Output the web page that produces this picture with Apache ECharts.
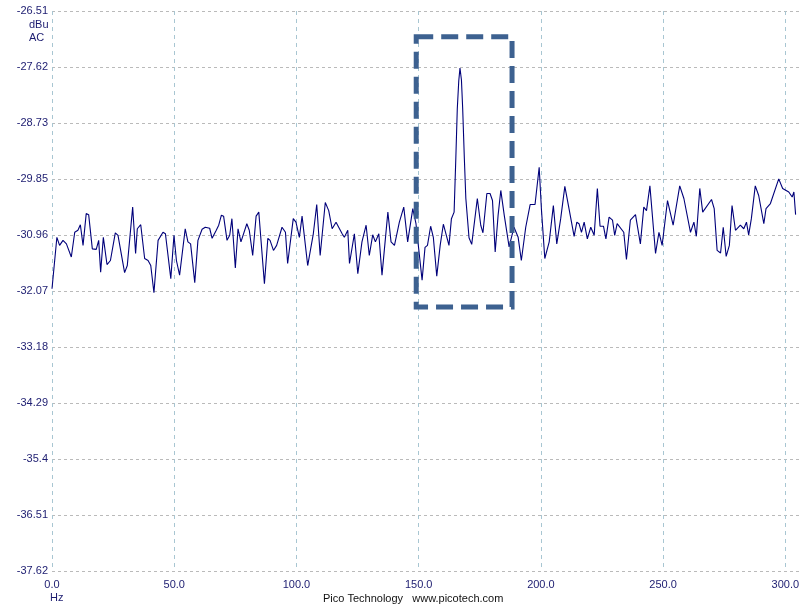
<!DOCTYPE html>
<html>
<head>
<meta charset="utf-8">
<script src="https://cdn.jsdelivr.net/npm/echarts@6/dist/echarts.min.js"></script>
<style>
  html, body { margin: 0; padding: 0; background: #fff; }
  #chart { width: 804px; height: 607px; }
</style>
</head>
<body>
<div id="chart"></div>
<script>
// spectrum trace (Hz / dBu)
const freqHz = [
  0.0, 2.0, 3.1, 4.5, 5.9, 7.9, 9.3, 10.6, 11.6, 12.7, 14.0, 15.0, 16.5, 18.1, 19.1, 19.9,
  21.0, 22.5, 23.9, 25.9, 27.0, 29.7, 30.8, 33.0, 34.2, 34.9, 36.3, 37.9, 39.3, 40.4, 41.7,
  43.4, 45.4, 46.4, 48.6, 49.9, 50.9, 52.2, 54.5, 55.6, 56.7, 58.4, 59.7, 61.4, 62.7, 64.5,
  65.5, 67.2, 68.2, 69.3, 70.2, 71.6, 72.7, 73.6, 75.0, 76.1, 77.3, 79.7, 80.7, 82.1, 83.5,
  84.6, 86.9, 88.3, 89.2, 90.6, 91.9, 94.1, 95.5, 96.4, 98.7, 99.8, 101.2, 102.3, 104.6,
  106.9, 108.3, 109.7, 111.8, 113.2, 114.6, 116.2, 118.7, 119.6, 121.0, 121.7, 123.7, 125.1,
  126.8, 128.5, 129.8, 131.2, 132.3, 133.7, 135.0, 137.4, 138.7, 140.1, 142.1, 143.9, 145.5,
  147.6, 148.9, 151.4, 152.6, 153.6, 154.9, 156.0, 157.4, 158.8, 160.1, 161.7, 162.4, 163.4,
  164.5, 165.2, 165.8, 166.4, 166.9, 167.5, 168.0, 168.7, 169.3, 170.6, 171.7, 174.0, 175.4,
  176.3, 177.9, 179.2, 180.2, 181.3, 182.5, 183.6, 185.0, 187.0, 189.0, 190.7, 192.0, 193.8,
  195.6, 197.6, 199.3, 200.2, 201.6, 203.4, 205.1, 206.5, 208.1, 209.8, 211.5, 213.6, 214.7,
  215.6, 216.6, 217.7, 219.0, 220.4, 221.8, 223.1, 224.2, 225.6, 226.6, 227.9, 229.3, 230.2,
  231.2, 233.9, 235.0, 236.6, 238.7, 240.7, 242.1, 243.2, 244.6, 246.9, 248.3, 249.6, 251.8,
  254.1, 256.8, 258.5, 261.2, 262.6, 263.6, 265.0, 266.2, 269.8, 270.9, 272.1, 273.5, 274.6,
  275.8, 277.1, 278.2, 279.6, 281.6, 283.0, 284.1, 285.0, 286.1, 287.7, 289.1, 291.2, 292.1,
  293.9, 297.3, 298.9, 301.4, 302.8, 303.5, 304.2
];
const levelDbu = [
  -32.02, -31.00, -31.16, -31.06, -31.13, -31.39, -30.90, -30.86, -30.75, -31.16, -30.53, -30.55, -31.23, -31.24, -31.06, -31.69,
  -31.00, -31.54, -31.46, -30.91, -30.96, -31.70, -31.56, -30.40, -31.32, -30.83, -30.75, -31.42, -31.46, -31.56, -32.10,
  -31.06, -30.90, -30.93, -31.82, -30.96, -31.46, -31.75, -30.83, -31.09, -31.13, -31.90, -31.06, -30.84, -30.80, -30.82,
  -31.02, -30.86, -30.76, -30.56, -30.58, -31.06, -30.96, -30.63, -31.61, -30.83, -31.09, -30.73, -30.86, -31.36, -30.58,
  -30.50, -31.92, -31.02, -31.06, -31.26, -31.16, -30.80, -30.90, -31.52, -30.63, -30.70, -31.00, -30.58, -31.56,
  -30.93, -30.35, -31.36, -30.31, -30.47, -30.83, -30.70, -30.93, -31.00, -30.86, -31.52, -30.93, -31.72,
  -31.09, -30.76, -31.36, -30.95, -31.09, -30.93, -31.75, -30.50, -31.09, -31.16, -30.70, -30.40, -31.09,
  -30.43, -30.73, -31.85, -31.20, -31.16, -30.78, -31.00, -31.77, -31.16, -30.74, -31.03, -31.16, -30.63,
  -30.50, -29.43, -28.45, -27.90, -27.64, -27.88, -28.44, -29.45, -30.23, -31.01, -31.14, -30.23, -30.76,
  -30.91, -30.13, -30.13, -30.27, -31.29, -30.56, -30.07, -30.56, -31.19, -30.80, -31.00, -31.46, -30.80,
  -30.35, -30.35, -29.61, -30.43, -31.42, -31.09, -30.37, -31.13, -30.63, -29.99, -30.43, -30.98, -30.70,
  -30.73, -30.90, -30.70, -31.03, -30.80, -30.96, -30.03, -30.78, -30.78, -31.03, -30.60, -30.66, -30.96,
  -30.73, -30.90, -31.44, -30.66, -30.55, -31.13, -30.40, -30.47, -29.98, -31.32, -30.90, -31.16, -30.27,
  -30.76, -29.98, -30.23, -30.90, -30.70, -30.98, -30.03, -30.50, -30.25, -30.43, -31.26, -31.31, -30.80,
  -31.38, -31.16, -30.37, -30.86, -30.76, -30.83, -30.70, -30.95, -30.63, -29.98, -30.17, -30.73, -30.43,
  -30.33, -29.84, -30.03, -30.10, -30.20, -30.10, -30.55
];

// axis ticks
const yTicks = [-37.62, -36.51, -35.4, -34.29, -33.18, -32.07, -30.96, -29.85, -28.73, -27.62, -26.51];
const xTicks = [0, 50, 100, 150, 200, 250, 300];

// highlighted region (the dashed box)
const boxHz = [149.0, 188.2];
const boxDbu = [-27.02, -32.38];

const chart = echarts.init(document.getElementById('chart'));

const labelColor = '#1c1c70';
const fontFamily = '"Liberation Sans", Arial, sans-serif';

chart.setOption({
  animation: false,
  backgroundColor: '#ffffff',
  grid: {
    left: 52,
    right: 4,
    top: 11,
    bottom: 36,
    containLabel: false,
    outerBoundsMode: 'none'
  },
  xAxis: {
    type: 'value',
    min: 0,
    max: 306,
    axisLine: { show: false },
    axisTick: { show: false, customValues: xTicks },
    axisLabel: {
      customValues: xTicks,
      color: labelColor,
      fontFamily: fontFamily,
      fontSize: 11,
      margin: 8,
      formatter: v => v.toFixed(1)
    },
    splitLine: {
      show: true,
      // vertical grid is a lighter, bluish dash
      lineStyle: { color: '#a8c6d2', type: [4, 4], width: 1 }
    }
  },
  yAxis: {
    type: 'value',
    min: -37.62,
    max: -26.51,
    axisLine: { show: false },
    axisTick: { show: false, customValues: yTicks },
    axisLabel: {
      customValues: yTicks,
      color: labelColor,
      fontFamily: fontFamily,
      fontSize: 11,
      margin: 4
    },
    splitLine: {
      show: true,
      lineStyle: { color: '#bababa', type: [3, 3], width: 1 }
    }
  },
  graphic: [
    { type: 'text', left: 29, top: 19, style: { text: 'dBu', fill: labelColor, font: '11px ' + fontFamily } },
    { type: 'text', left: 29, top: 32, style: { text: 'AC', fill: labelColor, font: '11px ' + fontFamily } },
    { type: 'text', left: 50, top: 592, style: { text: 'Hz', fill: labelColor, font: '11px ' + fontFamily } },
    { type: 'text', left: 323, top: 593, style: { text: 'Pico Technology   www.picotech.com', fill: '#111111', font: '11px ' + fontFamily } }
  ],
  series: [{
    type: 'line',
    data: freqHz.map((f, i) => [f, levelDbu[i]]),
    showSymbol: false,
    lineStyle: { color: '#00007a', width: 1.1 },
    z: 2,
    markArea: {
      silent: true,
      z: 5,
      itemStyle: {
        color: 'rgba(0,0,0,0)',
        borderColor: '#3d6190',
        borderWidth: 5,
        borderType: [17, 8],
        borderRadius: 4
      },
      data: [[
        { coord: [boxHz[0], boxDbu[0]] },
        { coord: [boxHz[1], boxDbu[1]] }
      ]]
    }
  }]
});
</script>
</body>
</html>
